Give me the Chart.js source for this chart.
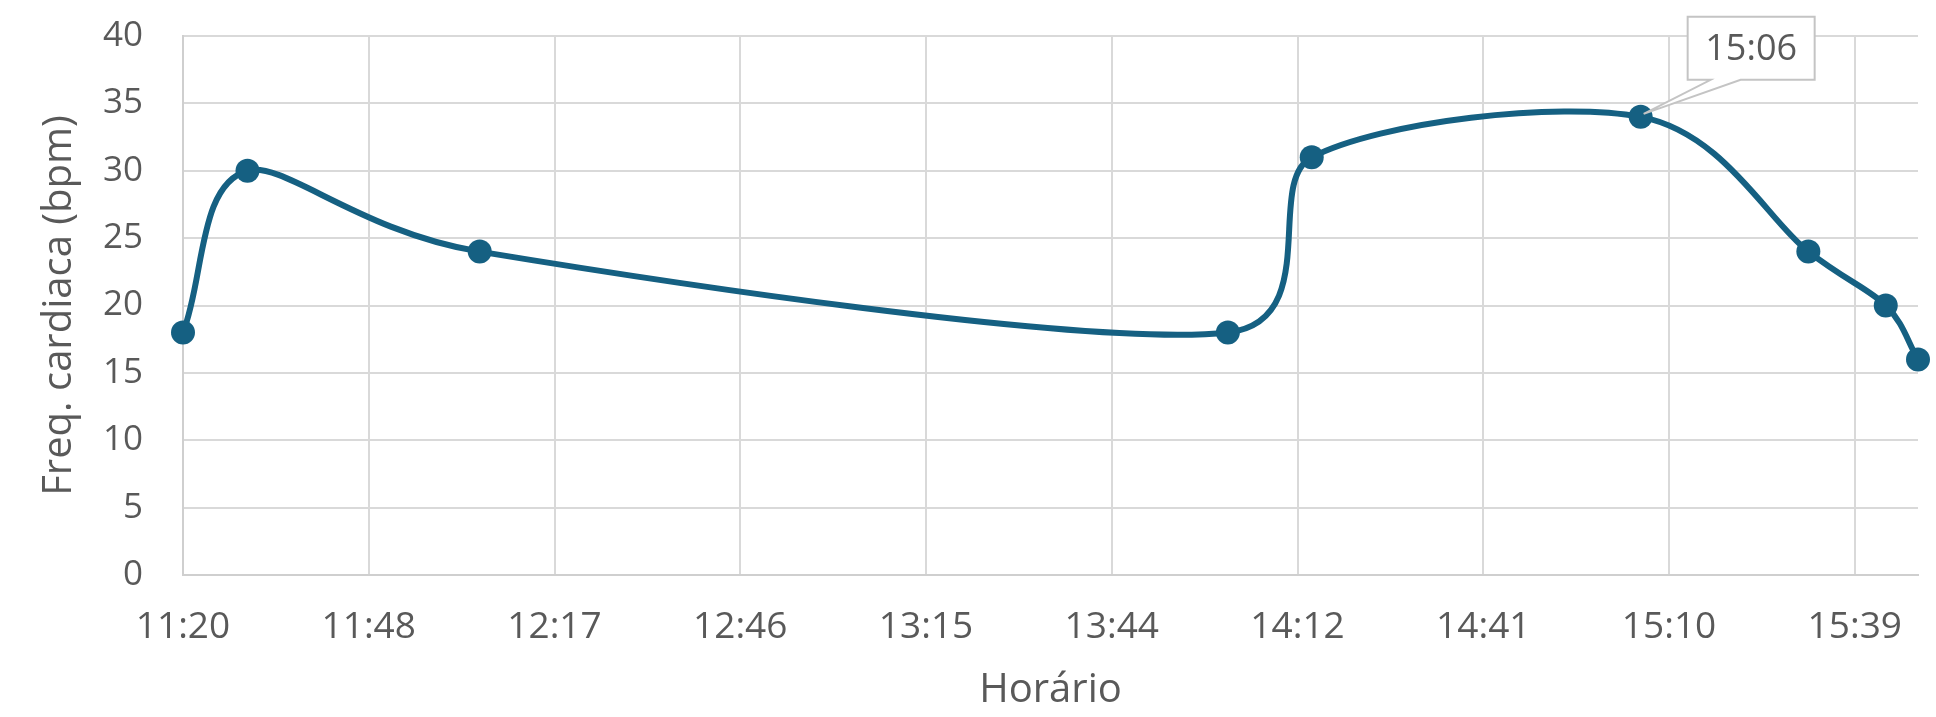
<!DOCTYPE html>
<html lang="pt">
<head>
<meta charset="utf-8">
<title>Frequência cardíaca</title>
<script src="https://cdn.jsdelivr.net/npm/chart.js@4/dist/chart.umd.min.js"></script>
<style>
  html, body { margin: 0; padding: 0; background: #ffffff; }
  #wrap { width: 1936px; height: 717px; }
</style>
</head>
<body>
<div id="wrap"><canvas id="chart" width="1936" height="717"></canvas></div>
<script>
// Measurement times (hh:mm) and heart rate readings
const times = ['11:20', '11:30', '12:06', '14:02', '14:15', '15:06', '15:32', '15:44', '15:49'];
const heartRate = [18, 30, 24, 18, 31, 34, 24, 20, 16];

// Horizontal axis: major unit of 0.02 day, labels shown as h:mm
const tickLabels = ['11:20', '11:48', '12:17', '12:46', '13:15', '13:44', '14:12', '14:41', '15:10', '15:39'];
const majorUnitDays = 0.02;

// Vertical axis
const yTicks = [0, 5, 10, 15, 20, 25, 30, 35, 40];

// Point that carries the time callout
const calloutIndex = 5;

const toMinutes = (s) => { const [h, m] = s.split(':').map(Number); return h * 60 + m; };
const stepMinutes = majorUnitDays * 24 * 60;
const xMin = toMinutes(tickLabels[0]);
const xMax = toMinutes(times[times.length - 1]);

const points = times.map((t, i) => ({ x: toMinutes(t), y: heartRate[i] }));

const ACCENT = '#156082';
const TEXT = '#595959';
const GRID = '#d9d9d9';
const FONT = "'Open Sans', 'Liberation Sans', Arial, sans-serif";

// Spreadsheet-style smoothing: Bezier arms of 1/6 of the neighbour chord
// (1/3 at the ends), scaled down when an arm would pass half of the segment.
const smoothLine = {
  id: 'smoothLine',
  beforeDatasetsDraw(chart) {
    chart.getSortedVisibleDatasetMetas().forEach((meta) => {
      const pts = meta.data;
      const n = pts.length;
      const dist = (a, b) => Math.hypot(b.x - a.x, b.y - a.y);
      for (let i = 0; i < n - 1; i++) {
        const p0 = pts[Math.max(i - 1, 0)];
        const p1 = pts[i];
        const p2 = pts[i + 1];
        const p3 = pts[Math.min(i + 2, n - 1)];
        const half = dist(p1, p2) / 2;
        const d02 = dist(p0, p2);
        const d13 = dist(p1, p3);
        let f1 = i === 0 ? 1 / 3 : 1 / 6;
        let f2 = i + 2 > n - 1 ? 1 / 3 : 1 / 6;
        const over1 = f1 * d02 >= half;
        const over2 = f2 * d13 >= half;
        if (over1 && over2) {
          f1 = half / d02;
          f2 = half / d13;
        } else if (over1) {
          f1 = f2 = half / d02;
        } else if (over2) {
          f1 = f2 = half / d13;
        }
        p1.cp2x = p1.x + (p2.x - p0.x) * f1;
        p1.cp2y = p1.y + (p2.y - p0.y) * f1;
        p2.cp1x = p2.x - (p3.x - p1.x) * f2;
        p2.cp1y = p2.y - (p3.y - p1.y) * f2;
      }
      if (meta.dataset) meta.dataset._path = undefined;
    });
  }
};

// Callout box with a pointer to one data point
const timeCallout = {
  id: 'timeCallout',
  afterDatasetsDraw(chart) {
    const meta = chart.getDatasetMeta(0);
    const el = meta.data[calloutIndex];
    if (!el) return;
    const ctx = chart.ctx;
    const px = el.x, py = el.y;
    const left = px + 47, top = py - 100, w = 127, h = 63;
    const baseL = px + 70, baseR = px + 100;
    const tipX = px + 3, tipY = py - 3;
    ctx.save();
    ctx.beginPath();
    ctx.moveTo(left, top);
    ctx.lineTo(left + w, top);
    ctx.lineTo(left + w, top + h);
    ctx.lineTo(baseR, top + h);
    ctx.lineTo(tipX, tipY);
    ctx.lineTo(baseL, top + h);
    ctx.lineTo(left, top + h);
    ctx.closePath();
    ctx.fillStyle = '#ffffff';
    ctx.fill();
    ctx.lineWidth = 2;
    ctx.strokeStyle = '#c4c4c4';
    ctx.lineJoin = 'miter';
    ctx.stroke();
    ctx.fillStyle = TEXT;
    ctx.font = `36px ${FONT}`;
    ctx.textAlign = 'center';
    ctx.textBaseline = 'middle';
    ctx.fillText(times[calloutIndex], left + w / 2, top + h / 2 + 1);
    ctx.restore();
  }
};

new Chart(document.getElementById('chart'), {
  type: 'scatter',
  data: {
    datasets: [{
      label: 'Freq. cardiaca',
      data: points,
      showLine: true,
      tension: 0.4,
      borderColor: ACCENT,
      borderWidth: 6,
      backgroundColor: ACCENT,
      pointBackgroundColor: ACCENT,
      pointBorderWidth: 0,
      pointRadius: 12,
      pointHoverRadius: 12,
      clip: false
    }]
  },
  options: {
    responsive: false,
    animation: false,
    events: [],
    layout: { padding: { top: 36, right: 18, left: 0, bottom: 0 } },
    plugins: {
      legend: { display: false },
      tooltip: { enabled: false }
    },
    scales: {
      x: {
        type: 'linear',
        min: xMin,
        max: xMax,
        afterBuildTicks(scale) {
          scale.ticks = tickLabels.map((_, i) => ({ value: xMin + i * stepMinutes }));
        },
        afterFit(scale) {
          scale.height = 142;
          scale.paddingLeft = 0;
          scale.paddingRight = 0;
        },
        ticks: {
          autoSkip: false,
          maxRotation: 0,
          padding: 30,
          color: TEXT,
          font: { family: FONT, size: 37 },
          callback: (v, i) => tickLabels[i]
        },
        grid: { color: GRID, lineWidth: 2, drawTicks: false },
        border: { display: true, color: '#cfcfcf', width: 2 },
        title: {
          display: true,
          text: 'Horário',
          color: TEXT,
          font: { family: FONT, size: 40 },
          padding: { top: 0, bottom: 2 }
        }
      },
      y: {
        min: 0,
        max: 40,
        afterBuildTicks(scale) {
          scale.ticks = yTicks.map((v) => ({ value: v }));
        },
        afterFit(scale) {
          scale.width = 183;
          scale.paddingTop = 0;
          scale.paddingBottom = 0;
        },
        ticks: {
          padding: 40,
          color: TEXT,
          font: { family: FONT, size: 35 }
        },
        grid: { color: GRID, lineWidth: 2, drawTicks: false },
        border: { display: true, color: '#cfcfcf', width: 2 },
        title: {
          display: true,
          text: 'Freq. cardiaca (bpm)',
          color: TEXT,
          font: { family: FONT, size: 40 },
          padding: { top: 36, bottom: 0 }
        }
      }
    }
  },
  plugins: [smoothLine, timeCallout]
});
</script>
</body>
</html>
